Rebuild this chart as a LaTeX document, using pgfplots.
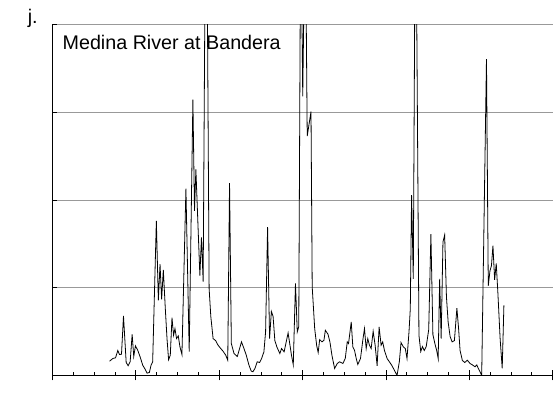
\documentclass[border=0pt]{standalone}
\usepackage{fontspec}
\setmainfont{Liberation Sans}
\usepackage{pgfplots}
\pgfplotsset{compat=1.18}
\pgfplotstableread{
x y
110 14.3
113.3 17
116 17.7
118.3 25
120 21
122 21.3
124 59.7
126.7 13
128.7 9.7
130.7 13.7
132.7 41.3
134.3 19
136 29.7
138.3 25.3
140.7 18.7
143.3 10.3
145.7 6.3
147.7 2.3
150 3
151.7 10.3
153.3 13.7
157 155.3
159 75.3
160.7 111.7
162.3 76.3
164 106
166 67
167.7 37
169.3 15.7
171 20.3
172.7 58
174.3 40.3
175.7 47
177.3 37
179 39.7
180.7 28.7
182.7 21
186.7 187.7
190 24
193.7 277
195.3 165.3
196.7 207
200.7 100.3
202.3 138.7
204 94.3
207 577
210 87
211.7 59
214 37
216.5 35
219 30.3
221.7 27
224 24.3
226.7 20.3
228.7 15.3
230.5 193
232.3 32
235 22
238.3 19
242.5 33.7
245 27
247.3 20.3
250 10.3
252.3 4.3
254 3.7
256 7
258.3 13.7
260.7 13
262.7 17
265 23.7
266.7 43.7
268.7 149
270.7 37
272.5 64.3
274.2 59.5
276 35
278 28.7
281 22
282.7 27
285.3 23.7
289.3 42.7
292.7 20.3
294.5 10.7
296.7 92.5
298.5 43.7
300 49
302 477
304 280.3
306.5 477
308.5 240.3
312.3 265
313.5 89
316 47
318 30
319.5 23
321 36
323.3 33.7
325.3 35.3
326.7 45.3
329.3 41.5
331.3 33.7
333.3 20.3
336 7
338.7 12
341 13.7
344.3 12
346.7 17
348.7 33.7
350 32
352.7 53.7
354.3 28.7
356 25.3
357.7 17
359.3 11
362 17
364.3 35.3
366 47
367.7 27
369.3 37
371 30.3
372.7 27
374.7 44.3
376.7 30.3
378.7 9.7
380.7 48.7
382.7 30.3
384.3 33.7
386 25.3
388.7 17
391 13.7
393.3 10.3
396 5.3
398.7 0
401 13.7
402.7 33
405 28.7
407 27
408.7 17
410.7 43.7
412 67
413.3 181
415 97
417.3 527
420.7 40.3
422.5 24
424.2 29
426 25
428 29
430.5 46
432.7 142
434.7 41
436.7 32
438.5 25
440 17
441.5 97
443 37
444.8 134
446.5 141
448.3 79
450 53.7
452 39
454 33.7
456.3 35
458.8 67.5
460.5 47
462 25
464.3 15
466.7 13
469.3 15.3
472 12
474.5 10.5
477 8.7
478.8 10.5
480.3 7
482 3.7
483.7 0
488.5 317.7
490.3 90
492 105
493.5 110.3
495 130.3
496.7 96
498.3 112.5
500 82
502.2 37
504.3 7
506 70.3
}\flowdata
\begin{document}
\begin{tikzpicture}
\begin{axis}[
  scale only axis, width=502.3bp, height=352bp,
  xmin=52.7, xmax=555, ymin=0, ymax=352,
  axis x line*=bottom, axis y line*=left,
  axis line style={black, line width=1bp},
  xtick={52.7,136.42,220.13,303.85,387.57,471.28,555},
  minor xtick={73.63,94.56,115.49,157.35,178.28,199.2,241.06,261.99,282.92,324.78,345.71,366.64,408.5,429.43,450.35,492.21,513.14,534.07},
  xticklabels={},
  ytick={0,88,176,264,352}, yticklabels={},
  ymajorgrids, grid style={black!40, line width=0.8bp},
  tick align=inside, major tick length=5bp, minor tick length=3.5bp,
  tick style={black, line width=0.8bp},
]
\addplot[black, line width=0.8bp] table[x=x, y=y] {\flowdata};
\coordinate (TL) at (rel axis cs:0,1);
\coordinate (BL) at (rel axis cs:0,0);
\end{axis}
\begin{axis}[
  scale only axis, width=502.3bp, height=352bp,
  xmin=52.7, xmax=555, ymin=0, ymax=352,
  axis x line*=bottom, hide y axis,
  axis line style={black, line width=1bp},
  xtick={52.7,136.42,220.13,303.85,387.57,471.28,555},
  xticklabels={},
  tick align=outside, major tick length=5bp,
  tick style={black, line width=0.8bp},
]
\end{axis}
\node[anchor=base west, font=\fontsize{19.8bp}{24bp}\selectfont, inner sep=0pt] at ([shift={(10bp,-25bp)}]TL) {Medina River at Bandera};
\node[anchor=base west, font=\fontsize{19.8bp}{24bp}\selectfont, inner sep=0pt] at ([shift={(-25bp,1bp)}]TL) {j.};
\path ([shift={(-52.7bp,-20bp)}]BL) rectangle ++(556bp,397bp);
\end{tikzpicture}
\end{document}
